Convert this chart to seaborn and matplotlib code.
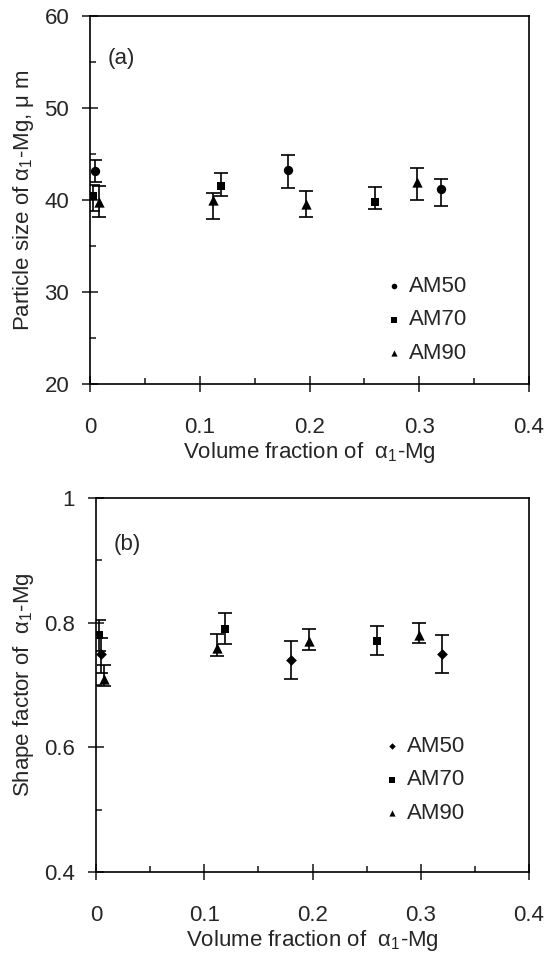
import numpy as np
import pandas as pd
import matplotlib
matplotlib.use("Agg")
import matplotlib.pyplot as plt
from matplotlib.ticker import MultipleLocator
import seaborn as sns

# ---- data ----
alloys = ["AM50", "AM70", "AM90"]

# (a) particle size, um
size_x = {"AM50": [0.005, 0.180, 0.320],
          "AM70": [0.003, 0.119, 0.260],
          "AM90": [0.008, 0.112, 0.197, 0.298]}
size_y = {"AM50": [43.2, 43.3, 41.2],
          "AM70": [40.4, 41.5, 39.8],
          "AM90": [39.8, 40.0, 39.6, 42.0]}
size_lo = {"AM50": [1.2, 2.0, 1.8],
           "AM70": [1.6, 1.1, 0.8],
           "AM90": [1.7, 2.1, 1.5, 2.0]}
size_hi = {"AM50": [1.2, 1.6, 1.1],
           "AM70": [1.2, 1.4, 1.6],
           "AM90": [1.7, 0.8, 1.4, 1.5]}

# (b) shape factor
shape_x = {"AM50": [0.005, 0.180, 0.320],
           "AM70": [0.003, 0.119, 0.260],
           "AM90": [0.007, 0.112, 0.197, 0.298]}
shape_y = {"AM50": [0.75, 0.74, 0.75],
           "AM70": [0.78, 0.79, 0.77],
           "AM90": [0.71, 0.76, 0.77, 0.78]}
shape_lo = {"AM50": [0.03, 0.03, 0.03],
            "AM70": [0.025, 0.025, 0.022],
            "AM90": [0.012, 0.013, 0.014, 0.013]}
shape_hi = {"AM50": [0.025, 0.03, 0.03],
            "AM70": [0.025, 0.025, 0.025],
            "AM90": [0.022, 0.022, 0.02, 0.02]}

sns.set_style("ticks")
plt.rcParams["font.family"] = ["Liberation Sans", "DejaVu Sans"]
plt.rcParams["mathtext.fontset"] = "custom"
plt.rcParams["mathtext.rm"] = "Liberation Sans"
plt.rcParams["mathtext.it"] = "Liberation Sans"

FS = 16


def to_frame(xs, ys):
    rows = []
    for a in alloys:
        for x, y in zip(xs[a], ys[a]):
            rows.append({"x": x, "y": y, "alloy": a})
    return pd.DataFrame(rows)


def panel(ax, xs, ys, lo, hi, markers, ylim, ymaj, ymin, ylabel, tag,
          leg_anchor, tag_y):
    for a in alloys:
        ax.errorbar(xs[a], ys[a], yerr=[lo[a], hi[a]], fmt="none",
                    ecolor="black", elinewidth=1.2, capsize=5, capthick=1.2,
                    zorder=2)
    df = to_frame(xs, ys)
    sizes = {"o": 45, "s": 40, "^": 55, "D": 30}
    for a in alloys:
        sub = df[df["alloy"] == a]
        sns.scatterplot(data=sub, x="x", y="y", marker=markers[a],
                        color="black", s=sizes[markers[a]], linewidth=0,
                        ax=ax, zorder=3, label=a)
    h, l = ax.get_legend_handles_labels()
    ax.legend(h, l, loc="center left", bbox_to_anchor=leg_anchor,
              frameon=False, fontsize=FS, markerscale=0.6, labelspacing=0.55,
              handletextpad=0.15, handlelength=1.0, borderaxespad=0)
    ax.set_xlim(0, 0.4)
    ax.set_ylim(*ylim)
    ax.xaxis.set_major_locator(MultipleLocator(0.1))
    ax.xaxis.set_minor_locator(MultipleLocator(0.05))
    ax.yaxis.set_major_locator(MultipleLocator(ymaj))
    ax.yaxis.set_minor_locator(MultipleLocator(ymin))
    ax.tick_params(which="major", direction="inout", length=12, width=1.2,
                   labelsize=FS)
    ax.tick_params(axis="x", which="major", pad=18)
    ax.tick_params(axis="y", which="major", pad=9)
    ax.tick_params(which="minor", direction="in", length=4, width=1.2)
    ax.xaxis.set_major_formatter(plt.FuncFormatter(lambda v, p: f"{v:g}"))
    ax.yaxis.set_major_formatter(plt.FuncFormatter(lambda v, p: f"{v:g}"))
    for s in ax.spines.values():
        s.set_linewidth(1.2)
        s.set_color("black")
    ax.set_xlabel(r"Volume fraction of  α$_1$-Mg", fontsize=FS, labelpad=1)
    ax.set_ylabel(ylabel, fontsize=FS, labelpad=6)
    ax.text(0.04, tag_y, tag, transform=ax.transAxes, fontsize=FS)


fig = plt.figure(figsize=(5.48, 9.56), dpi=100)
ax1 = fig.add_axes([90 / 548, 1 - 384 / 956, 439 / 548, 368 / 956])
ax2 = fig.add_axes([96 / 548, 1 - 872 / 956, 433 / 548, 374 / 956])

panel(ax1, size_x, size_y, size_lo, size_hi,
      {"AM50": "o", "AM70": "s", "AM90": "^"},
      (20, 60), 10, 5, r"Particle size of α$_1$-Mg, μ m", "(a)",
      (0.648, 0.174), 0.87)
panel(ax2, shape_x, shape_y, shape_lo, shape_hi,
      {"AM50": "D", "AM70": "s", "AM90": "^"},
      (0.4, 1.0), 0.2, 0.1, r"Shape factor of  α$_1$-Mg", "(b)",
      (0.638, 0.246), 0.86)

fig.savefig("out.png", dpi=100, facecolor="white")
